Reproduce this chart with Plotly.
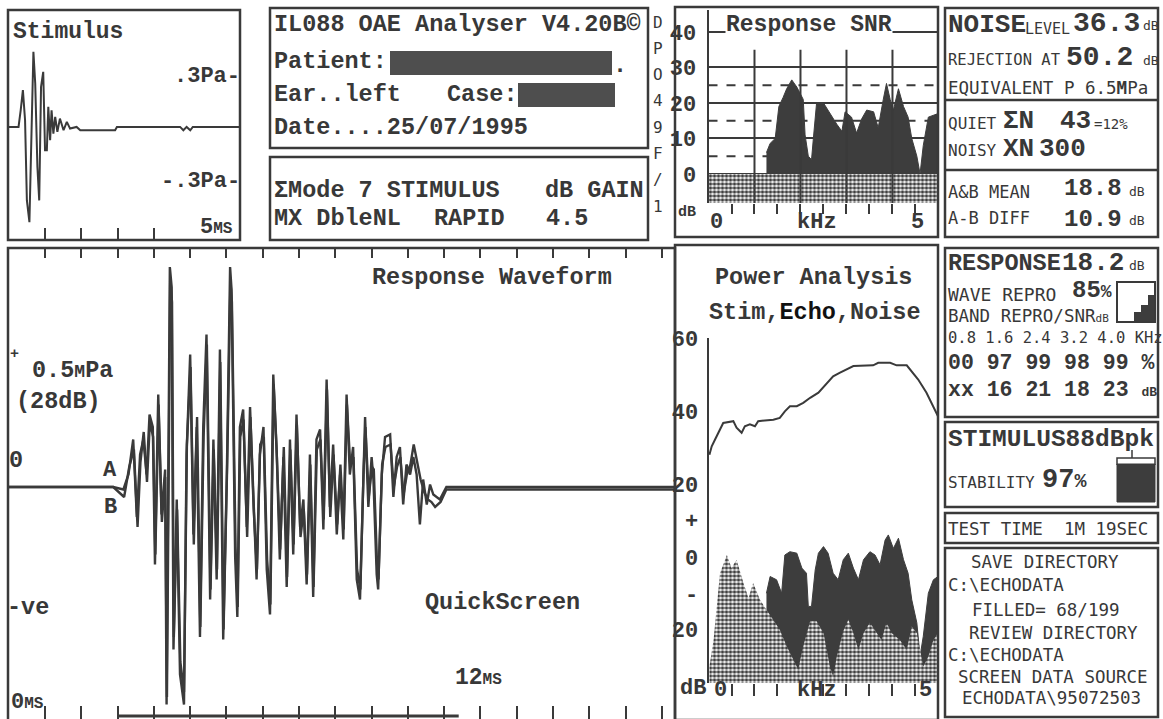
import plotly.graph_objects as go

# Stimulus click (time in ms, pressure in Pa)
stim_t_ms = [0.00, 0.27, 0.33, 0.39, 0.45, 0.50, 0.57, 0.63, 0.68, 0.73,
             0.79, 0.84, 0.89, 0.95, 1.00, 1.05, 1.09, 1.14, 1.18, 1.23,
             1.28, 1.34, 1.41, 1.51, 1.60, 1.69, 1.87, 1.97, 2.93, 2.98,
             4.72, 4.81, 4.90, 5.00, 5.07, 6.37]
stim_pa = [0.00, 0.00, 0.10, 0.22, 0.04, -0.44, -0.57, -0.04, 0.45, 0.26,
           -0.24, -0.44, 0.24, 0.33, -0.14, -0.14, 0.12, -0.08, 0.10, -0.04,
           0.06, -0.03, 0.05, -0.02, 0.03, -0.01, 0.00, -0.02, -0.02, 0.00,
           0.00, -0.02, 0.00, -0.02, 0.00, 0.00]

# Response waveform, buffer A (ms, mPa)
resp_a_ms = [0.00, 2.88, 3.16, 3.30, 3.43, 3.53, 3.62, 3.71, 3.80, 3.88,
             3.97, 4.03, 4.12, 4.21, 4.31, 4.35, 4.44, 4.49, 4.54, 4.63,
             4.72, 4.83, 4.90, 5.00, 5.09, 5.18, 5.27, 5.36, 5.45, 5.55,
             5.64, 5.73, 5.82, 5.91, 6.01, 6.10, 6.14, 6.24, 6.30, 6.37,
             6.46, 6.56, 6.65, 6.74, 6.83, 6.92, 7.02, 7.11, 7.20, 7.29,
             7.38, 7.47, 7.57, 7.66, 7.75, 7.84, 7.93, 8.03, 8.12, 8.21,
             8.30, 8.39, 8.48, 8.58, 8.67, 8.76, 8.85, 8.94, 9.04, 9.13,
             9.22, 9.31, 9.40, 9.49, 9.59, 9.68, 9.77, 9.82, 9.91, 10.00,
             10.05, 10.14, 10.18, 10.28, 10.37, 10.51, 10.60, 10.69, 10.78, 10.87,
             10.96, 11.06, 11.15, 11.24, 11.33, 11.42, 11.52, 11.61, 11.70, 11.88,
             12.06, 12.25, 18.36]
resp_a_mpa = [0.00, 0.00, -0.01, 0.05, 0.19, -0.12, 0.13, 0.19, 0.05, 0.29,
              0.24, -0.31, 0.37, -0.11, 0.07, -0.87, 0.88, 0.80, -0.65, -0.05,
              -0.75, -0.87, 0.13, 0.53, -0.19, 0.24, -0.60, 0.24, 0.61, -0.45,
              0.19, -0.37, 0.55, -0.61, 0.05, 0.88, 0.79, -0.28, -0.52, 0.24,
              0.31, -0.16, 0.32, -0.05, -0.37, 0.13, 0.24, -0.33, -0.51, 0.45,
              0.16, -0.29, 0.12, -0.40, 0.19, -0.27, 0.29, -0.16, -0.05, -0.39,
              0.13, -0.44, 0.19, 0.23, -0.17, 0.43, -0.08, 0.17, -0.19, 0.05,
              -0.21, 0.37, 0.05, 0.16, -0.37, -0.45, 0.03, 0.28, -0.08, 0.12,
              0.03, -0.35, -0.41, 0.05, 0.20, 0.21, -0.04, 0.12, 0.16, -0.07,
              0.09, 0.05, 0.12, 0.05, -0.15, 0.03, -0.07, 0.01, -0.03, -0.05,
              0.00, 0.00, 0.00]

# Response waveform, buffer B (ms, mPa)
resp_b_ms = [0.00, 2.88, 3.18, 3.32, 3.45, 3.55, 3.63, 3.72, 3.81, 3.89,
             3.98, 4.04, 4.13, 4.22, 4.31, 4.36, 4.45, 4.50, 4.55, 4.64,
             4.73, 4.83, 4.91, 5.01, 5.10, 5.19, 5.28, 5.37, 5.46, 5.56,
             5.65, 5.74, 5.83, 5.92, 6.02, 6.11, 6.15, 6.25, 6.31, 6.38,
             6.47, 6.57, 6.66, 6.75, 6.84, 6.93, 7.03, 7.12, 7.21, 7.30,
             7.39, 7.48, 7.58, 7.67, 7.76, 7.85, 7.94, 8.04, 8.13, 8.22,
             8.31, 8.40, 8.49, 8.59, 8.68, 8.77, 8.86, 8.95, 9.05, 9.14,
             9.23, 9.32, 9.41, 9.50, 9.60, 9.69, 9.78, 9.83, 9.92, 10.01,
             10.06, 10.15, 10.19, 10.29, 10.38, 10.52, 10.61, 10.70, 10.79, 10.88,
             10.97, 11.07, 11.16, 11.25, 11.35, 11.45, 11.55, 11.65, 11.75, 11.90,
             12.06, 12.25, 18.36]
resp_b_mpa = [0.00, 0.00, -0.04, 0.08, 0.15, -0.16, 0.10, 0.22, 0.02, 0.26,
              0.20, -0.27, 0.33, -0.14, 0.04, -0.84, 0.83, 0.74, -0.60, -0.09,
              -0.70, -0.82, 0.17, 0.48, -0.23, 0.28, -0.56, 0.20, 0.57, -0.41,
              0.15, -0.33, 0.50, -0.57, 0.09, 0.82, 0.74, -0.24, -0.48, 0.20,
              0.27, -0.20, 0.28, -0.09, -0.33, 0.17, 0.20, -0.29, -0.47, 0.41,
              0.12, -0.25, 0.16, -0.36, 0.15, -0.23, 0.25, -0.20, -0.09, -0.35,
              0.09, -0.40, 0.15, 0.19, -0.13, 0.39, -0.12, 0.13, -0.15, 0.09,
              -0.17, 0.33, 0.09, 0.12, -0.33, -0.41, 0.07, 0.24, -0.04, 0.08,
              0.07, -0.31, -0.37, 0.09, 0.16, 0.17, 0.00, 0.08, 0.12, -0.03,
              0.05, 0.09, 0.17, 0.10, 0.03, -0.02, -0.05, -0.06, -0.08, -0.06,
              -0.01, -0.01, -0.01]

# Response SNR (kHz, dB)
snr_khz = [1.26, 1.34, 1.45, 1.53, 1.62, 1.70, 1.81, 1.92, 2.06, 2.10,
           2.17, 2.24, 2.28, 2.35, 2.50, 2.64, 2.79, 2.90, 2.97, 3.11,
           3.22, 3.33, 3.44, 3.59, 3.69, 3.80, 3.87, 3.95, 4.02, 4.13,
           4.24, 4.34, 4.42, 4.53, 4.60, 4.67, 4.78, 4.99]
snr_db = [6.0, 8.6, 10.0, 19.0, 21.5, 24.0, 26.5, 24.5, 21.0, 11.0,
          5.0, 4.0, 10.0, 20.0, 20.0, 17.0, 14.0, 12.0, 17.5, 16.0,
          11.5, 15.5, 18.0, 17.5, 13.0, 21.0, 25.5, 21.0, 18.0, 24.0,
          19.0, 16.0, 10.0, 5.0, 0.0, 8.0, 16.0, 17.0]
snr_noise_band_db = [-8.2, 0.0]

# Power analysis (kHz, dB)
pa_stim_khz = [0.02, 0.07, 0.14, 0.21, 0.32, 0.54, 0.61, 0.72, 0.79, 0.90,
               1.01, 1.08, 1.41, 1.55, 1.66, 1.77, 1.92, 2.06, 2.21, 2.39,
               2.57, 2.71, 2.86, 3.00, 3.15, 3.58, 3.69, 3.95, 4.09, 4.31,
               4.42, 4.56, 4.74, 4.89, 4.99]
pa_stim_db = [28.0, 30.3, 32.1, 34.0, 36.7, 37.2, 35.4, 34.0, 35.8, 36.3,
              35.8, 37.2, 37.6, 38.1, 39.9, 41.3, 41.3, 42.2, 43.6, 45.0,
              47.7, 49.5, 50.5, 51.4, 52.3, 52.5, 53.2, 53.2, 52.5, 52.5,
              50.9, 48.6, 45.0, 41.3, 38.5]
pa_echo_khz = [1.26, 1.34, 1.48, 1.59, 1.66, 1.77, 1.92, 2.03, 2.13, 2.17,
               2.24, 2.32, 2.39, 2.50, 2.60, 2.71, 2.82, 2.93, 3.04, 3.15,
               3.26, 3.37, 3.51, 3.62, 3.73, 3.84, 3.91, 4.02, 4.13, 4.24,
               4.34, 4.42, 4.53, 4.60, 4.67, 4.78, 4.89, 4.99]
pa_echo_db = [-10.0, -5.4, -6.3, -10.0, 0.5, 1.4, 1.0, -3.1, -4.5, -13.6,
              -13.6, -3.6, 1.0, 2.8, 1.0, -4.5, -6.3, -0.8, 1.0, -3.1,
              -6.3, -0.8, 1.4, 0.5, -2.2, 4.6, 6.0, 2.3, 5.1, -0.8,
              -4.5, -11.8, -18.1, -27.3, -21.8, -10.0, -6.3, -5.4]
pa_noise_khz = [0.02, 0.11, 0.25, 0.40, 0.50, 0.61, 0.76, 0.87, 0.97, 1.12,
                1.26, 1.41, 1.55, 1.70, 1.84, 1.95, 2.06, 2.21, 2.35, 2.50,
                2.64, 2.71, 2.79, 2.93, 3.04, 3.15, 3.26, 3.37, 3.51, 3.66,
                3.76, 3.87, 3.98, 4.16, 4.31, 4.42, 4.53, 4.67, 4.78, 4.89,
                4.99]
pa_noise_db = [-30.1, -22.8, -4.5, 0.5, -3.1, -0.8, -7.2, -11.3, -7.2, -11.8,
               -14.5, -17.2, -20.0, -24.5, -28.2, -30.9, -24.5, -17.7, -17.7, -20.9,
               -30.1, -32.8, -27.3, -20.4, -17.2, -20.9, -25.5, -20.9, -18.1, -20.9,
               -22.8, -18.1, -20.9, -22.8, -25.5, -19.1, -20.9, -30.1, -27.3, -22.8,
               -20.9]

# axis scales / reference lines
stim_ticks_ms = [1, 2, 3, 4]
resp_ticks_ms = list(range(1, 19))
resp_window_ms = [3.0, 12.4]
khz_ticks = [0.5, 1.0, 1.5, 2.0, 2.5, 3.0, 3.5, 4.0, 4.5]
snr_grid_db = [0, 10, 20, 30, 40]
snr_dashed_db = [5, 15, 25]
snr_vlines_khz = [1, 2, 3, 4]
pa_tick_db = [60, 40, 20, 10, 0, -10, -20]
pa_tick_text = ["60", "40", "20", "+", "0", "-", "20"]

# numeric read-outs
band_khz = ["0.8", "1.6", "2.4", "3.2", "4.0"]
band_repro = ["00", "97", "99", "98", "99"]
band_snr = ["xx", "16", "21", "18", "23"]

# ---------------- drawing ----------------
W, H = 1163, 719
INK = "#383838"
LINE = "#3a3a3a"
DARK = "#3d3d3d"
HEAD = "Liberation Mono"
SANS = "DejaVu Sans Mono"
HATCH = dict(shape=".", fgcolor="#404040", bgcolor="white", size=4, solidity=0.62)


def X(p):
    return p / W


def Y(p):
    return 1 - p / H


fig = go.Figure()

# stimulus
fig.add_trace(go.Scatter(x=stim_t_ms, y=stim_pa, mode="lines",
                         line=dict(color=LINE, width=2), xaxis="x", yaxis="y"))
# response A and B
fig.add_trace(go.Scatter(x=resp_b_ms, y=resp_b_mpa, mode="lines",
                         line=dict(color=LINE, width=2.4), xaxis="x3", yaxis="y2"))
fig.add_trace(go.Scatter(x=resp_a_ms, y=resp_a_mpa, mode="lines",
                         line=dict(color=LINE, width=2.4), xaxis="x2", yaxis="y2"))

# SNR noise band (hatched)
KMAX = 4.99
fig.add_trace(go.Scatter(x=[0, KMAX], y=[snr_noise_band_db[0]] * 2, mode="lines",
                         line=dict(width=0), xaxis="x4", yaxis="y4"))
fig.add_trace(go.Scatter(x=[0, KMAX], y=[snr_noise_band_db[1]] * 2, mode="lines",
                         line=dict(width=0), fill="tonexty", fillcolor="white",
                         fillpattern=HATCH, xaxis="x4", yaxis="y4"))
fig.add_trace(go.Scatter(x=snr_khz, y=snr_db, mode="lines",
                         line=dict(color=DARK, width=1), fill="tozeroy", fillcolor=DARK,
                         xaxis="x4", yaxis="y4"))

# power analysis
PA_FLOOR = -34.6
fig.add_trace(go.Scatter(x=[pa_echo_khz[0], pa_echo_khz[-1]], y=[PA_FLOOR] * 2, mode="lines",
                         line=dict(width=0), xaxis="x5", yaxis="y5"))
fig.add_trace(go.Scatter(x=pa_echo_khz, y=pa_echo_db, mode="lines",
                         line=dict(color=DARK, width=1), fill="tonexty", fillcolor=DARK,
                         xaxis="x5", yaxis="y5"))
fig.add_trace(go.Scatter(x=[pa_noise_khz[0], pa_noise_khz[-1]], y=[PA_FLOOR] * 2, mode="lines",
                         line=dict(width=0), xaxis="x5", yaxis="y5"))
fig.add_trace(go.Scatter(x=pa_noise_khz, y=pa_noise_db, mode="lines",
                         line=dict(width=0), fill="tonexty", fillcolor="white",
                         fillpattern=HATCH, xaxis="x5", yaxis="y5"))
fig.add_trace(go.Scatter(x=pa_stim_khz, y=pa_stim_db, mode="lines",
                         line=dict(color=LINE, width=2), xaxis="x5", yaxis="y5"))

base = dict(showgrid=False, zeroline=False, showline=False, showticklabels=False,
            fixedrange=True, tickcolor=LINE, tickwidth=2, automargin=False)
tickfont = dict(family=HEAD, size=22, color=INK, weight="bold")

fig.update_layout(
    template="none",
    width=W, height=H, margin=dict(l=0, r=0, t=0, b=0, pad=0, autoexpand=False),
    paper_bgcolor="white", plot_bgcolor="rgba(0,0,0,0)", showlegend=False,
    xaxis=dict(domain=[X(8), X(240)], range=[-0.02, 6.37], anchor="y",
               ticks="inside", tickvals=stim_ticks_ms, ticklen=12, **base),
    yaxis=dict(domain=[Y(240), Y(10)], range=[-0.677, 0.70], anchor="x", ticks="", **base),
    xaxis2=dict(domain=[X(8), X(675)], range=[-0.02, 18.36], anchor="y2", side="top",
                ticks="inside", tickvals=resp_ticks_ms, ticklen=10, **base),
    xaxis3=dict(range=[-0.02, 18.36], anchor="y2", overlaying="x2", side="bottom",
                ticks="inside", tickvals=resp_ticks_ms, ticklen=13, **base),
    yaxis2=dict(domain=[0, Y(248)], range=[-0.928, 0.956], anchor="x2", ticks="", **base),
    xaxis4=dict(domain=[X(708.5), X(938)], range=[0, KMAX], anchor="y4",
                ticks="outside", tickvals=khz_ticks, ticklen=10, **base),
    yaxis4=dict(domain=[Y(203), Y(10)], range=[-8.2, 46.2], anchor="x4",
                tickvals=snr_grid_db, ticks="", ticklabelstandoff=6,
                tickfont=tickfont,
                **{**base, "showgrid": True, "showline": True, "showticklabels": True},
                gridcolor=LINE, gridwidth=2, linecolor=LINE, linewidth=2),
    xaxis5=dict(domain=[X(708.5), X(938)], range=[0, KMAX], anchor="y5",
                ticks="outside", tickvals=khz_ticks, ticklen=12, **base),
    yaxis5=dict(domain=[Y(683), Y(338)], range=[PA_FLOOR, 60], anchor="x5",
                tickvals=pa_tick_db, ticktext=pa_tick_text, ticks="", ticklabelstandoff=4,
                tickfont=tickfont,
                **{**base, "showline": True, "showticklabels": True},
                linecolor=LINE, linewidth=2),
)

shapes = []


def box(x0, y0, x1, y1, w=2.5):
    shapes.append(dict(type="rect", xref="paper", yref="paper", x0=X(x0), x1=X(x1),
                       y0=Y(y1), y1=Y(y0), line=dict(color=LINE, width=w), layer="above"))


def hline(x0, x1, y, w=2.5):
    shapes.append(dict(type="line", xref="paper", yref="paper", x0=X(x0), x1=X(x1),
                       y0=Y(y), y1=Y(y), line=dict(color=LINE, width=w), layer="above"))


def blob(x0, y0, x1, y1):
    shapes.append(dict(type="rect", xref="paper", yref="paper", x0=X(x0), x1=X(x1),
                       y0=Y(y1), y1=Y(y0), fillcolor="#4e4e4e", line=dict(width=0),
                       layer="above"))


# panel frames
box(8, 10, 240, 240)
box(270, 8, 648, 148)
box(270, 157, 648, 240)
box(675, 7, 938, 237)
box(945, 8, 1158, 237)
hline(945, 1158, 100)
hline(945, 1158, 170)
box(8, 248, 675, 724)
box(675, 245, 938, 720)
box(945, 248, 1158, 417)
box(945, 422, 1158, 507)
box(945, 513, 1158, 543)
box(945, 548, 1158, 717)

# redactions
blob(390, 51, 612, 75)
blob(518, 83, 615, 107)

# SNR reference lines
for d in snr_dashed_db:
    shapes.append(dict(type="line", xref="x4 domain", yref="y4", x0=0, x1=1, y0=d, y1=d,
                       line=dict(color=LINE, width=2, dash="dash"), layer="below"))
for k in snr_vlines_khz:
    shapes.append(dict(type="line", xref="x4", yref="y4", x0=k, x1=k, y0=-8.2, y1=35,
                       line=dict(color=LINE, width=2), layer="above"))

# response analysis window bar
shapes.append(dict(type="line", xref="x2", yref="paper", x0=resp_window_ms[0],
                   x1=resp_window_ms[1], y0=Y(716), y1=Y(716),
                   line=dict(color=LINE, width=3), layer="above"))

# wave repro mini-graphic
box(1117, 282, 1155, 322, w=2)
shapes.append(dict(type="path", xref="paper", yref="paper",
                   path="M {a},{b} L {a},{c} L {d},{c} L {d},{e} L {f},{e} L {f},{g} L {h},{g} L {h},{b} Z".format(
                       a=X(1154), b=Y(321), c=Y(295), d=X(1148), e=Y(305), f=X(1141), g=Y(312), h=X(1134)),
                   fillcolor=DARK, line=dict(width=0), layer="above"))
# stability mini-graphic
shapes.append(dict(type="rect", xref="paper", yref="paper", x0=X(1117), x1=X(1155),
                   y0=Y(502), y1=Y(464), fillcolor=DARK, line=dict(color=LINE, width=1),
                   layer="above"))
shapes.append(dict(type="path", xref="paper", yref="paper",
                   path="M {a},{b} L {a},{c} L {d},{c} L {d},{b}".format(
                       a=X(1117), b=Y(465), c=Y(458), d=X(1155)),
                   line=dict(color=LINE, width=1.5), layer="above"))
shapes.append(dict(type="line", xref="paper", yref="paper", x0=X(1132), x1=X(1132),
                   y0=Y(458), y1=Y(450), line=dict(color=LINE, width=1.5), layer="above"))

anns = []


def T(x, y, s, size=23, anchor="left", fam=HEAD, bold=True, color=INK, bg=None):
    d = dict(x=X(x), y=Y(y), xref="paper", yref="paper", text=s, showarrow=False,
             xanchor=anchor, yanchor="middle", borderpad=0,
             font=dict(family=fam, size=size, color=color, weight="bold" if bold else "normal"))
    if bg:
        d["bgcolor"] = bg
    anns.append(d)


def sm(s, size=15):
    return "<span style='font-size:%dpx'>%s</span>" % (size, s)


# stimulus panel
T(12, 32, "Stimulus", 23)
T(241, 77, ".3Pa-", 22, "right")
T(241, 182, "-.3Pa-", 22, "right")
T(234, 228, "5" + sm("MS", 16), 22, "right")

# header info
T(273, 24, "IL088 OAE Analyser V4.20B©", 23.5)
T(273, 61, "Patient:", 23.5)
T(612, 66, ".", 23.5)
T(273, 94, "Ear..left", 23.5)
T(446, 94, "Case:", 23.5)
T(273, 128, "Date....25/07/1995", 23.5)
T(273, 190, "ΣMode 7 STIMULUS", 23.5)
T(645, 190, "dB GAIN", 23.5, "right")
T(273, 218, "MX DbleNL", 23.5)
T(433, 218, "RAPID", 23.5)
T(545, 218, "4.5", 23.5)

side_tag = "DPO49F/1"
for i, ch in enumerate(side_tag):
    T(658, 22 + i * 26.3, ch, 16, "center", SANS, False)

# SNR panel
T(809, 25, "Response SNR", 23, "center", bg="white")
T(677, 213, "dB", 15, "left")
T(716, 222, "0", 22, "center")
T(817, 222, "kHz", 22, "center")
T(917, 222, "5", 22, "center")

# noise/right top box
T(947, 25, "NOISE", 26)
T(1024, 29, "LEVEL", 15, fam=SANS, bold=False)
T(1072, 23, "36.3", 28)
T(1142, 26, "dB", 13, fam=SANS, bold=False)
T(947, 60, "REJECTION AT", 15.5, fam=SANS, bold=False)
T(1065, 57, "50.2", 28)
T(1142, 60, "dB", 13, fam=SANS, bold=False)
T(947, 88, "EQUIVALENT P 6.5<b>M</b>Pa", 17.5, fam=SANS, bold=False)
T(947, 123, "QUIET", 16, fam=SANS, bold=False)
T(1002, 121, "ΣN", 26)
T(1059, 121, "43", 26)
T(1093, 124, "=12%", 14, fam=SANS, bold=False)
T(947, 150, "NOISY", 16, fam=SANS, bold=False)
T(1002, 149, "XN", 26)
T(1038, 149, "300", 26)
T(947, 192, "A&B MEAN", 17, fam=SANS, bold=False)
T(1063, 189, "18.8", 24)
T(1128, 191, "dB", 13, fam=SANS, bold=False)
T(947, 218, "A-B DIFF", 17, fam=SANS, bold=False)
T(1063, 219, "10.9", 24)
T(1128, 220, "dB", 13, fam=SANS, bold=False)

# response read-outs
T(947, 263, "RESPONSE", 23.5)
T(1061, 263, "18.2", 26)
T(1128, 265, "dB", 13, fam=SANS, bold=False)
T(947, 294, "WAVE REPRO", 18, fam=SANS, bold=False)
T(1071, 290, "85" + sm("%", 18), 24)
T(947, 316, "BAND REPRO/SNR" + sm("dB", 11), 17.5, fam=SANS, bold=False)
T(947, 338, " ".join(band_khz) + " KHz", 15.5, fam=SANS, bold=False)
T(947, 363, " ".join(band_repro) + " %", 21.5)
T(947, 390, " ".join(band_snr) + " " + sm("dB", 13), 21.5)
T(947, 440, "STIMULUS88dBpk", 24.5)
T(947, 482, "STABILITY", 16, fam=SANS, bold=False)
T(1041, 480, "97" + sm("%", 20), 27)
T(947, 529, "TEST TIME  1M 19SEC", 17.5, fam=SANS, bold=False)
T(1045, 562, "SAVE DIRECTORY", 17.5, "center", SANS, False)
T(947, 585, "C:\\ECHODATA", 17.5, fam=SANS, bold=False)
T(1046, 610, "FILLED= 68/199", 17.5, "center", SANS, False)
T(1053, 633, "REVIEW DIRECTORY", 17.5, "center", SANS, False)
T(947, 655, "C:\\ECHODATA", 17.5, fam=SANS, bold=False)
T(1053, 677, "SCREEN DATA SOURCE", 17.5, "center", SANS, False)
T(1051, 698, "ECHODATA\\95072503", 17.5, "center", SANS, False)

# response waveform panel
T(492, 277, "Response Waveform", 23.5, "center")
T(14, 355, "+", 15, "center")
T(31, 370, "0.5" + sm("M", 18) + "Pa", 23.5)
T(15, 402, "(28dB)", 23.5)
T(8, 460, "0", 23.5)
T(110, 470, "A", 22, "center")
T(110, 507, "B", 22, "center")
T(6, 607, "-ve", 23.5)
T(10, 702, "0" + sm("MS", 16), 22)
T(502, 602, "QuickScreen", 23.5, "center")
T(478, 678, "12" + sm("MS", 16), 23, "center")

# power analysis panel
T(813, 277, "Power Analysis", 23.5, "center")
T(815, 312, "Stim,<span style='color:#111'>Echo</span>,Noise", 23.5, "center")
T(679, 688, "dB", 22, "left")
T(720, 690, "0", 22, "center")
T(817, 690, "kHz", 22, "center")
T(925, 690, "5", 22, "center")

fig.update_layout(shapes=shapes, annotations=anns)
fig.write_html(
    "out.html",
    config={"displayModeBar": False},
    post_script="document.body.style.margin='0px';document.body.style.padding='0px';"
                "document.documentElement.style.overflow='hidden';",
)
